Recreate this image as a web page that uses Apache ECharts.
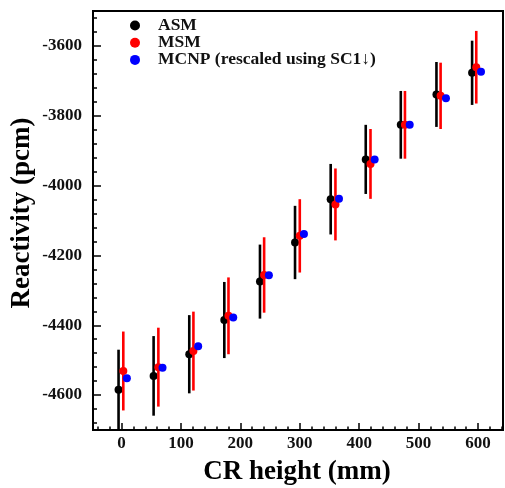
<!DOCTYPE html>
<html>
<head>
<meta charset="utf-8">
<script src="https://cdn.jsdelivr.net/npm/echarts@6/dist/echarts.min.js"></script>
<style>
html,body{margin:0;padding:0;background:#fff;}
#chart{width:505px;height:488px;}
</style>
</head>
<body>
<div id="chart"></div>
<script>
// ---- data ----
const seriesNames = ['ASM', 'MSM', 'MCNP (rescaled using SC1\u2193)'];

const asmX   = [-5, 54, 114, 173, 233, 292, 352, 411, 470, 530, 590];
const asmY   = [-4585, -4545, -4483, -4385, -4275, -4163, -4039, -3925, -3826, -3739, -3677];
const asmErr = [115, 114, 112, 109, 106, 105, 101, 99, 97, 93, 92];

const msmX   = [3, 62, 121, 180, 240, 300, 360, 419, 477, 537, 597];
const msmY   = [-4531, -4520, -4474, -4373, -4256, -4144, -4054, -3938, -3826, -3743, -3661];
const msmErr = [113, 113, 113, 110, 108, 105, 103, 100, 97, 95, 104];

const mcnpX  = [9, 69, 129, 188, 248, 307, 366, 426, 485, 546, 605];
const mcnpY  = [-4552, -4522, -4460, -4378, -4257, -4139, -4038, -3925, -3826, -3750, -3674];

const xTicks = [0, 100, 200, 300, 400, 500, 600];
const xMinorTicks = [-40, -20, 20, 40, 60, 80, 120, 140, 160, 180, 220, 240, 260, 280, 320, 340, 360, 380, 420, 440, 460, 480, 520, 540, 560, 580, 620, 640];
const yTicks = [-4600, -4400, -4200, -4000, -3800, -3600];
const yMinorTicks = [-4680, -4640, -4560, -4520, -4480, -4440, -4360, -4320, -4280, -4240, -4160, -4120, -4080, -4040, -3960, -3920, -3880, -3840, -3760, -3720, -3680, -3640, -3560, -3520];

const xTitle = 'CR height (mm)';
const yTitle = 'Reactivity (pcm)';

// ---- chart ----
const FONT = '"Liberation Serif", "Times New Roman", serif';
const chart = echarts.init(document.getElementById('chart'), null, {renderer: 'canvas'});

function pts(xs, ys) { return xs.map((x, i) => [x, ys[i]]); }
function bars(xs, ys, es) { return xs.map((x, i) => [x, ys[i] - es[i], ys[i] + es[i]]); }

function errSeries(data, color, z) {
  return {
    type: 'custom',
    data: data,
    z: z,
    clip: true,
    silent: true,
    encode: {x: 0, y: [1, 2]},
    renderItem: function (params, api) {
      const x = api.value(0);
      const p1 = api.coord([x, api.value(1)]);
      const p2 = api.coord([x, api.value(2)]);
      return {
        type: 'line',
        shape: {x1: p1[0], y1: p1[1], x2: p2[0], y2: p2[1]},
        style: {stroke: color, lineWidth: 2.6}
      };
    }
  };
}
function dotSeries(name, data, color, z) {
  return {
    name: name,
    type: 'scatter',
    data: data,
    z: z,
    symbol: 'circle',
    symbolSize: 8,
    itemStyle: {color: color, opacity: 1},
    emphasis: {disabled: true}
  };
}

const xMin = -48, xMax = 642, yMin = -4700, yMax = -3500;
const plain = v => String(v);

const option = {
  animation: false,
  backgroundColor: '#ffffff',
  grid: {left: 93, top: 11, right: 2, bottom: 58, show: true, borderColor: '#000', borderWidth: 2, backgroundColor: 'transparent'},
  legend: {
    data: seriesNames,
    orient: 'vertical',
    left: 130, top: 16.5,
    padding: 0,
    itemWidth: 10, itemHeight: 10,
    itemGap: -0.8,
    icon: 'circle',
    selectedMode: false,
    textStyle: {fontFamily: FONT, fontWeight: 'bold', fontSize: 17.5, lineHeight: 17, color: '#111', padding: [0, 0, 0, 13]}
  },
  xAxis: [{
    type: 'value', min: xMin, max: xMax,
    splitLine: {show: false},
    axisLine: {show: true, onZero: false, lineStyle: {color: '#000', width: 2}},
    axisTick: {show: true, inside: true, length: 7, customValues: xTicks, lineStyle: {color: '#000', width: 1.5}},
    axisLabel: {show: true, customValues: xTicks, formatter: plain, margin: 5, fontFamily: FONT, fontWeight: 'bold', fontSize: 17, color: '#111'}
  }, {
    type: 'value', min: xMin, max: xMax, position: 'bottom', gridIndex: 0,
    splitLine: {show: false},
    axisLine: {show: false, onZero: false},
    axisTick: {show: true, inside: true, length: 3.5, customValues: xMinorTicks, lineStyle: {color: '#000', width: 1.5}},
    axisLabel: {show: false}
  }],
  yAxis: [{
    type: 'value', min: yMin, max: yMax,
    splitLine: {show: false},
    axisLine: {show: true, onZero: false, lineStyle: {color: '#000', width: 2}},
    axisTick: {show: true, inside: true, length: 8, customValues: yTicks, lineStyle: {color: '#000', width: 1.5}},
    axisLabel: {show: true, customValues: yTicks, formatter: plain, margin: 11, fontFamily: FONT, fontWeight: 'bold', fontSize: 17, color: '#111'}
  }, {
    type: 'value', min: yMin, max: yMax, position: 'left', gridIndex: 0,
    splitLine: {show: false},
    axisLine: {show: false, onZero: false},
    axisTick: {show: true, inside: true, length: 4, customValues: yMinorTicks, lineStyle: {color: '#000', width: 1.5}},
    axisLabel: {show: false}
  }],
  graphic: [{
    type: 'text', x: 297, y: 472,
    style: {text: xTitle, font: 'bold 27px ' + FONT, fill: '#000', align: 'center', verticalAlign: 'middle'}
  }, {
    type: 'text', x: 22, y: 213, rotation: Math.PI / 2,
    style: {text: yTitle, font: 'bold 27px ' + FONT, fill: '#000', align: 'center', verticalAlign: 'middle'}
  }],
  series: [
    errSeries(bars(asmX, asmY, asmErr), '#000000', 2),
    dotSeries(seriesNames[0], pts(asmX, asmY), '#000000', 3),
    errSeries(bars(msmX, msmY, msmErr), '#ff0000', 4),
    dotSeries(seriesNames[1], pts(msmX, msmY), '#ff0000', 5),
    dotSeries(seriesNames[2], pts(mcnpX, mcnpY), '#0000ff', 6)
  ]
};
chart.setOption(option);
</script>
</body>
</html>
